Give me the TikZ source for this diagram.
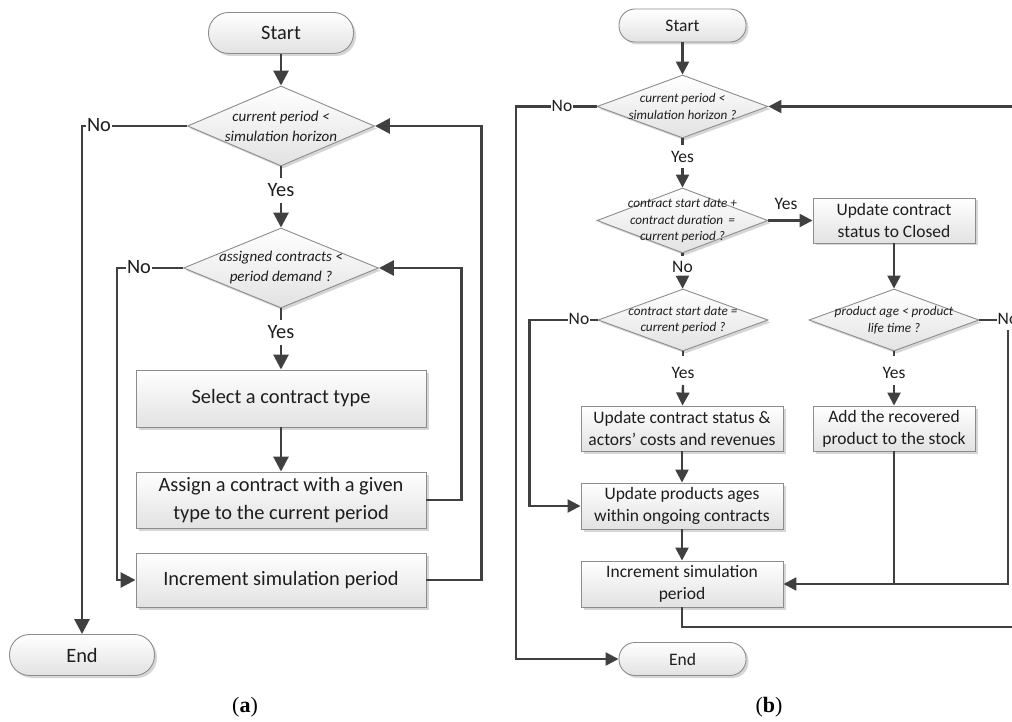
\documentclass[tikz,border=0pt]{standalone}
\usepackage{fontspec}
\setmainfont{Carlito}
\newfontfamily\capfont{Liberation Serif}
\usetikzlibrary{shapes.geometric,arrows.meta,shadows}
\definecolor{lc}{HTML}{404040}
\definecolor{bc}{HTML}{8C8C8C}
\definecolor{bot}{HTML}{E2E2E2}
\definecolor{tc}{HTML}{1E1E1E}
\begin{document}
\begin{tikzpicture}[x=1pt,y=-1pt,
  base/.style={draw=bc, line width=0.9pt, top color=white, bottom color=bot, text=tc,
    inner sep=0pt, align=center,
    drop shadow={shadow xshift=2.5pt,shadow yshift=-2.5pt,fill=black,opacity=0.16}},
  terma/.style={base, rounded corners=20pt, minimum width=145pt, minimum height=41pt, font=\fontsize{20.4}{25}\selectfont},
  termb/.style={base, rounded corners=16pt, minimum width=127pt, minimum height=33pt, font=\fontsize{17.5}{21.7}\selectfont},
  boxa/.style={base, minimum width=290pt, font=\fontsize{20.4}{27.5}\selectfont},
  boxb/.style={base, font=\fontsize{17.5}{21.7}\selectfont},
  dia/.style={base, shape=diamond, shape aspect=2},
  dta/.style={align=center, text=tc, font=\itshape\fontsize{15}{20}\selectfont},
  dtb/.style={align=center, text=tc, font=\itshape\fontsize{13.2}{16.5}\selectfont},
  lbla/.style={text=tc, fill=white, inner sep=1pt, font=\fontsize{20.4}{24}\selectfont},
  lblb/.style={text=tc, fill=white, inner sep=1pt, font=\fontsize{17.5}{21}\selectfont},
  lna/.style={draw=lc, line width=2.8pt},
  lnb/.style={draw=lc, line width=2.4pt},
  arra/.style={lna, -{Triangle[length=15pt,width=15pt]}},
  arrb/.style={lnb, -{Triangle[length=13pt,width=13pt]}},
]
\useasboundingbox (0,0) rectangle (1012,722);
\clip (0,0) rectangle (1012,722);

% ---------------- panel (a) ----------------
\node[terma] (startA) at (281,33) {Start};
\node[dia, minimum width=187pt, minimum height=80pt,
  label={[dta]center:{current period <\\simulation horizon}}] (d1) at (281,126) {};
\node[dia, minimum width=195pt, minimum height=80pt,
  label={[dta]center:{assigned contracts <\\period demand ?}}] (d2) at (281,268) {};
\node[boxa, minimum height=57pt] (box1) at (281,398.5) {Select a contract type};
\node[boxa, minimum height=56pt] (box2) at (281,500) {Assign a contract with a given\\type to the current period};
\node[boxa, minimum height=54pt] (box3) at (281,580) {Increment simulation period};
\node[terma] (endA) at (82,655) {End};

\draw[arra] (startA) -- (d1);
\draw[lna] (d1) -- (281,178);
\draw[arra] (281,203) -- (d2);
\draw[lna] (d2) -- (281,320);
\draw[arra] (281,345) -- (box1);
\draw[arra] (box1) -- (box2);
\draw[arra] (box2.east) -- ++(35,0) |- (d2.east);
\draw[arra] (box3.east) -- ++(55,0) |- (d1.east);
\draw[arra] (d1.west) -| (endA.north);
\draw[arra] (d2.west) -- ++(-66,0) |- (box3.west);

\node[lbla, fill=none] (yesA1) at (281,190) {Yes};
\node[lbla, fill=none] (yesA2) at (281,332) {Yes};
\node[lbla] (noA1) at (99,125) {No};
\node[lbla] (noA2) at (139,267) {No};
\node[font=\capfont\fontsize{22}{26}\selectfont, text=black] (capA) at (245,707) {(\textbf{a})};

% ---------------- panel (b) ----------------
\node[termb] (startB) at (682.5,25.5) {Start};
\node[dia, minimum width=171pt, minimum height=63pt,
  label={[dtb]center:{current period <\\simulation horizon ?}}] (e1) at (682.5,106.5) {};
\node[dia, minimum width=171pt, minimum height=65pt,
  label={[dtb]center:{contract start date +\\contract duration \,=\\current period ?}}] (e2) at (682.5,220.5) {};
\node[dia, minimum width=170pt, minimum height=62pt,
  label={[dtb]center:{contract start date =\\current period ?}}] (e3) at (683,320) {};
\node[dia, minimum width=170pt, minimum height=62pt,
  label={[dtb]center:{product age < product\\life time ?}}] (e4) at (894,320) {};
\node[boxb, minimum width=162pt, minimum height=45pt] (closed) at (894,220.5) {Update contract\\status to Closed};
\node[boxb, minimum width=202pt, minimum height=45pt] (upd) at (682,428.5) {Update contract status \&\\actors’ costs and revenues};
\node[boxb, minimum width=162pt, minimum height=45pt] (add) at (894,428.5) {Add the recovered\\product to the stock};
\node[boxb, minimum width=202pt, minimum height=46pt] (ages) at (682,506) {Update products ages\\within ongoing contracts};
\node[boxb, minimum width=202pt, minimum height=46pt] (inc) at (682,584) {Increment simulation\\period};
\node[termb] (endB) at (682.5,659) {End};
\coordinate (rin) at (1014,106.5);
\coordinate (rout) at (1014,627);

\draw[arrb] (startB) -- (e1);
\draw[lnb] (e1) -- (682.5,145);
\draw[arrb] (682.5,168) -- (e2);
\draw[lnb] (e2) -- (682.5,256);
\draw[arrb] (682.5,279) -- (e3);
\draw[lnb] (e3) -- (683,356);
\draw[arrb] (683,385) -- (upd);
\draw[lnb] (e4) -- (894,356);
\draw[arrb] (894,385) -- (add);
\draw[arrb] (e2) -- (closed);
\draw[arrb] (closed) -- (e4);
\draw[arrb] (upd) -- (ages);
\draw[arrb] (ages) -- (inc);
\draw[arrb] (rin) -- (e1.east);
\draw[arrb] (e1.west) -- (516,106.5) |- (endB.west);
\draw[arrb] (e3.west) -- ++(-68,0) |- (ages.west);
\draw[lnb] (e4.east) -- ++(20,0);
\draw[arrb] (1008,330) |- (inc.east);
\draw[lnb] (add.south) -- (add.south |- inc.east);
\draw[lnb] (inc.south) |- (rout);

\node[lblb, fill=none] (yesB1) at (682.5,157) {Yes};
\node[lblb, fill=none] (noB2) at (682.5,267) {No};
\node[lblb, fill=none] (yesB3) at (683,373) {Yes};
\node[lblb, fill=none] (yesB4) at (894,373) {Yes};
\node[lblb, fill=none] (yesB2) at (786,204) {Yes};
\node[lblb] (noB1) at (562,106) {No};
\node[lblb] (noB3) at (579,319) {No};
\node[lblb] (noB4) at (1008,319) {No};
\node[font=\capfont\fontsize{22}{26}\selectfont, text=black] (capB) at (769,707) {(\textbf{b})};
\end{tikzpicture}
\end{document}
